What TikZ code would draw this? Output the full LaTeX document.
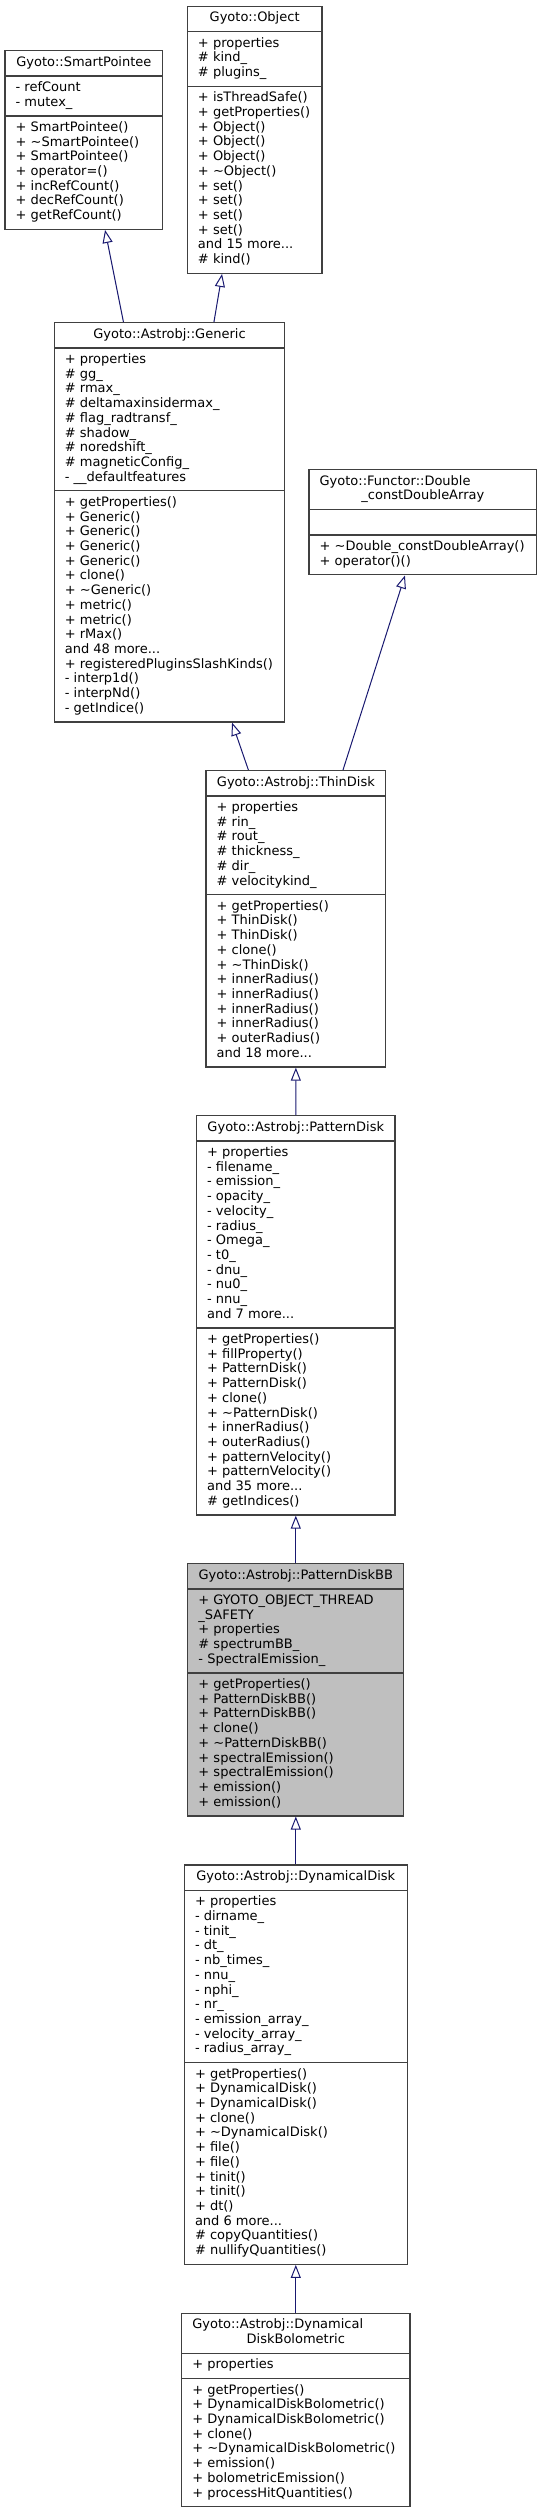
\documentclass[tikz,border=0pt]{standalone}
\usepackage{fontspec}
\setmainfont{DejaVu Sans}
\usetikzlibrary{shapes.multipart,arrows.meta}

\definecolor{edgeblue}{HTML}{191970}
\definecolor{boxgray}{HTML}{404040}
\definecolor{curfill}{HTML}{BFBFBF}

\hyphenpenalty=10000
\newcommand{\ctr}[1]{\hbox to\hsize{\hss#1\hss}}

\tikzset{
	cls/.style={rectangle split, rectangle split parts=3, draw=boxgray, line width=1pt,
		fill=white, inner xsep=8pt, inner ysep=3.45pt, anchor=north, align=flush left,
		font=\fontsize{9.75}{11.03}\selectfont},
	cur/.style={cls, fill=curfill},
	inh/.style={draw=edgeblue, line width=0.75pt, -{Triangle[open,length=9.75pt,width=7.5pt]}}
}

\begin{document}
\begin{tikzpicture}[x=0.75pt,y=-0.75pt]

	\useasboundingbox (0,0) rectangle (541,2512);

	\pgfmathsetmacro{\midx}{295.8}

	% top row
	\node[cls, text width=102.3pt] (smart) at (83.85,50)
		{\ctr{\strut Gyoto::SmartPointee}
		\nodepart{two}\strut- refCount\\- mutex\_\strut
		\nodepart{three}\strut+ SmartPointee()\\+ \textasciitilde SmartPointee()\\+ SmartPointee()\\+ operator=()\\+ incRefCount()\\+ decRefCount()\\+ getRefCount()\strut};
	\node[cls, text width=85pt] (obj) at (254.65,5.7)
		{\ctr{\strut Gyoto::Object}
		\nodepart{two}\strut+ properties\\\# kind\_\\\# plugins\_\strut
		\nodepart{three}\strut+~isThreadSafe()\\+~getProperties()\\+ Object()\\+ Object()\\+ Object()\\+ \textasciitilde Object()\\+ set()\\+ set()\\+ set()\\+ set()\\and 15 more...\\\# kind()\strut};

	% second row
	\node[cls, text width=156.9pt] (generic) at (169.45,322)
		{\ctr{\strut Gyoto::Astrobj::Generic}
		\nodepart{two}\strut+ properties\\\# gg\_\\\# rmax\_\\\# deltamaxinsidermax\_\\\# flag\_radtransf\_\\\# shadow\_\\\# noredshift\_\\\# magneticConfig\_\\- \_\_defaultfeatures\strut
		\nodepart{three}\strut+ getProperties()\\+ Generic()\\+ Generic()\\+ Generic()\\+ Generic()\\+ clone()\\+ \textasciitilde Generic()\\+ metric()\\+ metric()\\+ rMax()\\and 48 more...\\+~registeredPluginsSlashKinds()\\- interp1d()\\- interpNd()\\- getIndice()\strut};
	\node[cls, text width=154.8pt] (functor) at (422.85,469)
		{\strut Gyoto::Functor::Double\\\ctr{\_constDoubleArray\strut}
		\nodepart{two}\strut
		\nodepart{three}\strut+~\textasciitilde Double\_constDoubleArray()\\+ operator()()\strut};

	% middle column
	\node[cls, text width=118.85pt] (thin) at (295.9,770)
		{\ctr{\strut Gyoto::Astrobj::ThinDisk}
		\nodepart{two}\strut+ properties\\\# rin\_\\\# rout\_\\\# thickness\_\\\# dir\_\\\# velocitykind\_\strut
		\nodepart{three}\strut+ getProperties()\\+ ThinDisk()\\+ ThinDisk()\\+ clone()\\+ \textasciitilde ThinDisk()\\+ innerRadius()\\+ innerRadius()\\+ innerRadius()\\+ innerRadius()\\+ outerRadius()\\and 18 more...\strut};
	\node[cls, text width=133pt] (pattern) at (\midx,1115)
		{\ctr{\strut Gyoto::Astrobj::PatternDisk}
		\nodepart{two}\strut+ properties\\- filename\_\\- emission\_\\- opacity\_\\- velocity\_\\- radius\_\\- Omega\_\\- t0\_\\- dnu\_\\- nu0\_\\- nnu\_\\and 7 more...\strut
		\nodepart{three}\strut+ getProperties()\\+ fillProperty()\\+ PatternDisk()\\+ PatternDisk()\\+ clone()\\+ \textasciitilde PatternDisk()\\+ innerRadius()\\+ outerRadius()\\+ patternVelocity()\\+ patternVelocity()\\and 35 more...\\\# getIndices()\strut};
	\node[cur, text width=146pt] (bb) at (\midx,1563)
		{\ctr{\strut Gyoto::Astrobj::PatternDiskBB}
		\nodepart{two}\strut+~GYOTO\_OBJECT\_THREAD\\\_SAFETY\\+ properties\\\# spectrumBB\_\\- SpectralEmission\_\strut
		\nodepart{three}\strut+ getProperties()\\+ PatternDiskBB()\\+ PatternDiskBB()\\+ clone()\\+ \textasciitilde PatternDiskBB()\\+ spectralEmission()\\+ spectralEmission()\\+ emission()\\+ emission()\strut};
	\node[cls, text width=151.2pt] (dyn) at (\midx,1864.3)
		{\ctr{\strut Gyoto::Astrobj::DynamicalDisk}
		\nodepart{two}\strut+ properties\\- dirname\_\\- tinit\_\\- dt\_\\- nb\_times\_\\- nnu\_\\- nphi\_\\- nr\_\\- emission\_array\_\\- velocity\_array\_\\- radius\_array\_\strut
		\nodepart{three}\strut+ getProperties()\\+ DynamicalDisk()\\+ DynamicalDisk()\\+ clone()\\+ \textasciitilde DynamicalDisk()\\+ file()\\+ file()\\+ tinit()\\+ tinit()\\+ dt()\\and 6 more...\\\# copyQuantities()\\\# nullifyQuantities()\strut};
	\node[cls, text width=155.2pt] (bolo) at (\midx,2312.7)
		{\strut Gyoto::Astrobj::Dynamical\\\ctr{DiskBolometric\strut}
		\nodepart{two}\strut+ properties\strut
		\nodepart{three}\strut+ getProperties()\\+~DynamicalDiskBolometric()\\+~DynamicalDiskBolometric()\\+ clone()\\+~\textasciitilde DynamicalDiskBolometric()\\+ emission()\\+ bolometricEmission()\\+ processHitQuantities()\strut};

	% inheritance arrows
	\draw[inh] ([shift={(-46,0)}]generic.north) -- ([shift={(21.2,0)}]smart.south);
	\draw[inh] ([shift={(44.5,0)}]generic.north) -- ([shift={(-32.6,0)}]obj.south);
	\draw[inh] ([shift={(-47.5,0)}]thin.north) -- ([shift={(62.6,0)}]generic.south);
	\draw[inh] ([shift={(47.1,0)}]thin.north) -- ([shift={(-17.9,0)}]functor.south);
	\draw[inh] (pattern) -- (thin);
	\draw[inh] (bb) -- (pattern);
	\draw[inh] (dyn) -- (bb);
	\draw[inh] (bolo) -- (dyn);

\end{tikzpicture}
\end{document}
